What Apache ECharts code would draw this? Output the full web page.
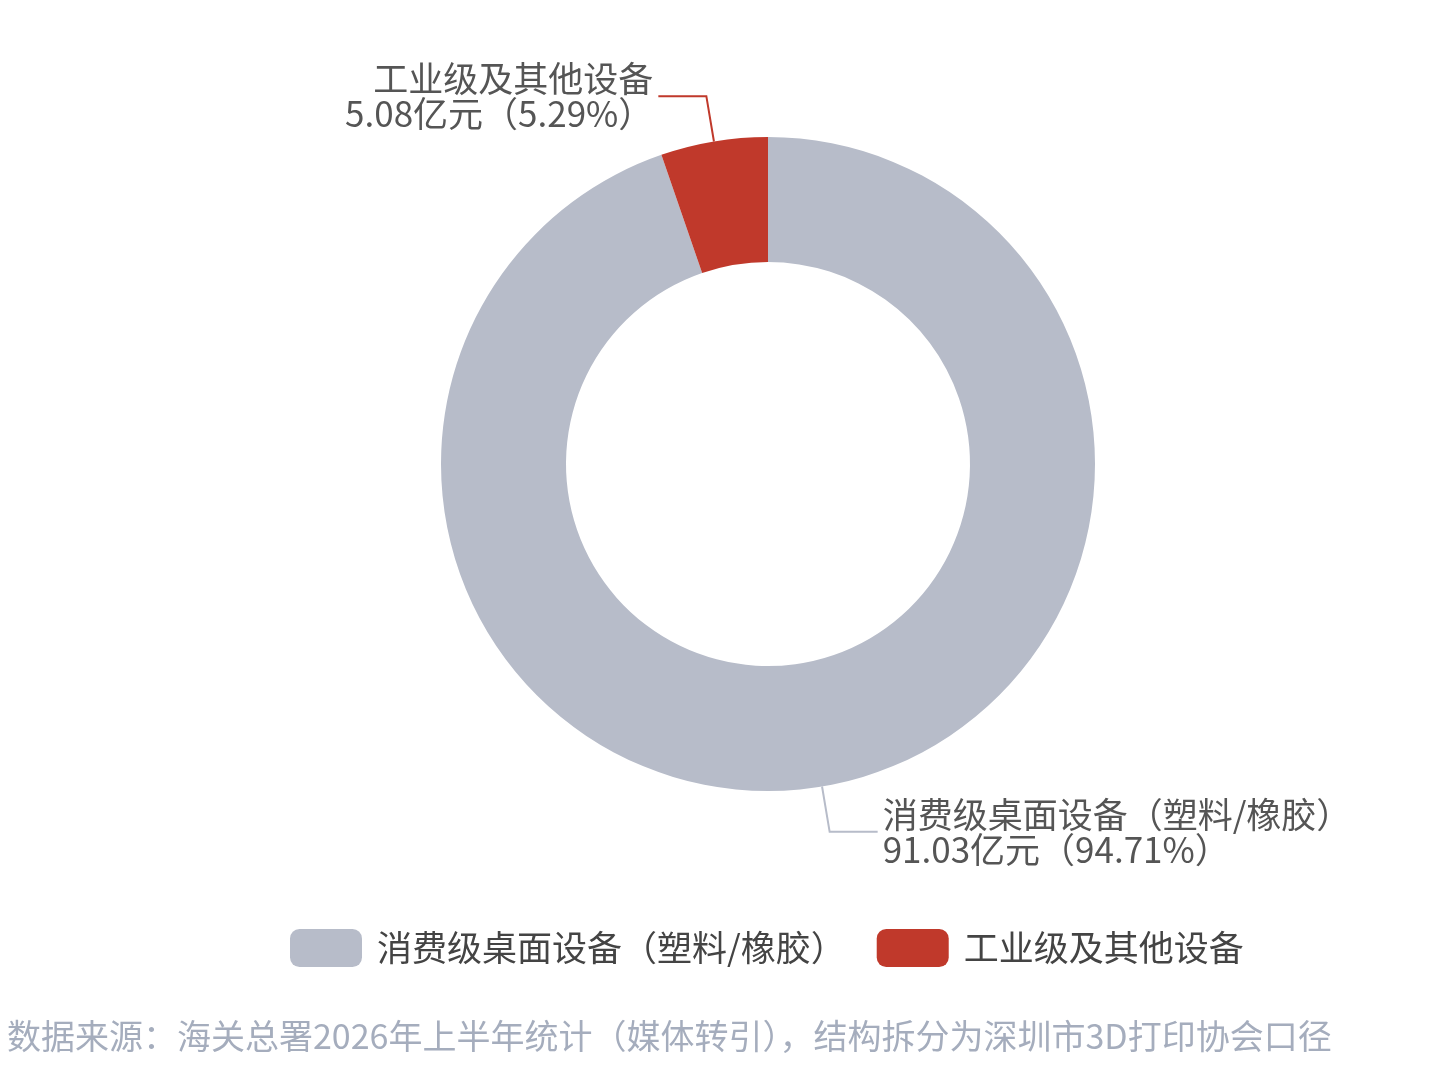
<!DOCTYPE html>
<html><head><meta charset="utf-8">
<script src="https://cdn.jsdelivr.net/npm/echarts@6/dist/echarts.min.js"></script>
<style>html,body{margin:0;padding:0;background:#fff}#c{width:1440px;height:1068px}</style>
</head><body><div id="c"></div>
<script>
const categories = ['消费级桌面设备（塑料/橡胶）', '工业级及其他设备'];
const values = [91.03, 5.08];
const colors = ['#b7bcc9', '#c0392b'];
const sourceText = '数据来源：海关总署2026年上半年统计（媒体转引），结构拆分为深圳市3D打印协会口径';

const chart = echarts.init(document.getElementById('c'));
chart.setOption({
  animation: false,
  color: colors,
  title: {
    text: sourceText,
    left: 2, top: 1014,
    textStyle: { fontSize: 34, fontWeight: 'normal', color: '#a5adbd', fontFamily: 'Noto Sans CJK SC' }
  },
  legend: {
    data: categories,
    left: 285, top: 924,
    itemWidth: 72, itemHeight: 38, itemGap: 31,
    icon: 'roundRect',
    textStyle: { fontSize: 35, color: '#444', fontFamily: 'Noto Sans CJK SC', padding: [0,0,0,10] }
  },
  series: [{
    type: 'pie',
    center: [768, 464],
    radius: [202, 327],
    startAngle: 90,
    clockwise: true,
    percentPrecision: 2,
    avoidLabelOverlap: false,
    data: categories.map((n, i) => ({ name: n, value: values[i] })),
    label: {
      show: true,
      formatter: '{b}\n{c}亿元（{d}%）',
      fontSize: 35, lineHeight: 35,
      color: '#555',
      fontFamily: 'Noto Sans CJK SC'
    },
    labelLine: { show: true, length: 46, length2: 48, lineStyle: { width: 2 } }
  }]
});
</script></body></html>
